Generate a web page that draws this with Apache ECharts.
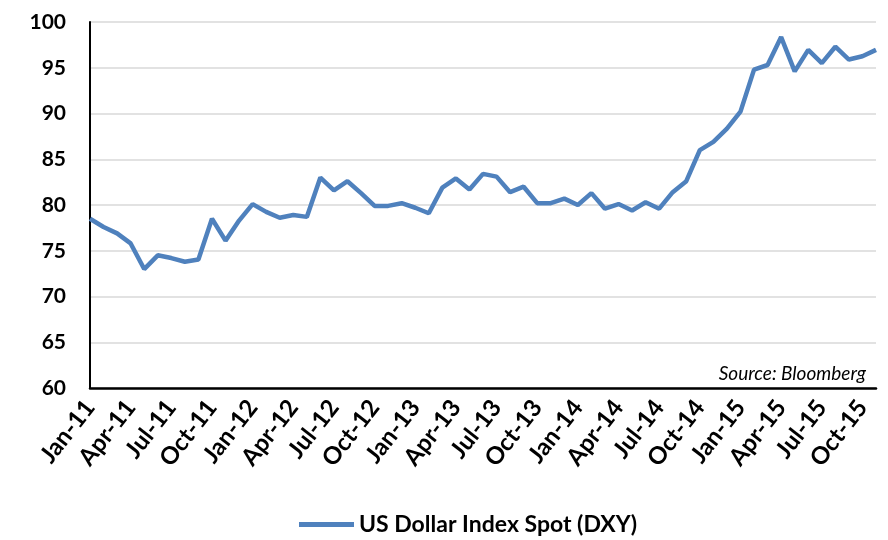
<!DOCTYPE html>
<html>
<head>
<meta charset="utf-8">
<script src="https://cdn.jsdelivr.net/npm/echarts@6/dist/echarts.min.js"></script>
<style>
  html, body { margin: 0; padding: 0; background: #fff; }
  #main { width: 888px; height: 540px; }
</style>
</head>
<body>
<div id="main"></div>
<script>
var months = ['Jan', 'Feb', 'Mar', 'Apr', 'May', 'Jun', 'Jul', 'Aug', 'Sep', 'Oct', 'Nov', 'Dec'];
var years = ['11', '12', '13', '14', '15'];
// monthly categories Jan-11 .. Nov-15
var categories = [];
years.forEach(function (y) {
    months.forEach(function (m) {
        categories.push(m + '-' + y);
    });
});
categories = categories.slice(0, 59);

// US Dollar Index Spot (DXY)
var dxy = [
    78.5, 77.6, 76.9, 75.8, 73.0, 74.5, 74.2, 73.8, 74.05, 78.5, 76.1, 78.3,
    80.1, 79.25, 78.6, 78.9, 78.7, 83.0, 81.6, 82.6, 81.3, 79.9, 79.9, 80.2,
    79.7, 79.1, 81.9, 82.9, 81.7, 83.4, 83.1, 81.4, 82.0, 80.2, 80.2, 80.7,
    80.0, 81.3, 79.6, 80.1, 79.4, 80.3, 79.6, 81.4, 82.6, 86.0, 86.9, 88.35,
    90.2, 94.8, 95.3, 98.35, 94.6, 96.95, 95.5, 97.3, 95.9, 96.25, 96.95
];

var seriesName = 'US Dollar Index Spot (DXY)';
var sourceText = 'Source: Bloomberg';

var myChart = echarts.init(document.getElementById('main'));

var option = {
    animation: false,
    backgroundColor: '#ffffff',
    textStyle: {fontFamily: 'Lato'},
    grid: {
        left: 90,
        right: 12,
        top: 22,
        bottom: 152
    },
    legend: {
        left: 294,
        top: 508,
        itemWidth: 55,
        itemHeight: 5,
        itemGap: 10,
        icon: 'rect',
        textStyle: {
            fontFamily: 'Lato',
            fontWeight: 'bold',
            fontSize: 23,
            color: '#000'
        },
        data: [seriesName]
    },
    xAxis: {
        type: 'category',
        data: categories,
        boundaryGap: false,
        axisLine: {lineStyle: {color: '#000', width: 2.5}},
        axisTick: {show: false},
        axisLabel: {
            interval: 2,
            rotate: 52,
            margin: 15,
            fontFamily: 'Lato',
            fontWeight: 'bold',
            fontSize: 24,
            color: '#000'
        },
        splitLine: {show: false}
    },
    yAxis: {
        type: 'value',
        min: 60,
        max: 100,
        interval: 5,
        axisLine: {show: true, lineStyle: {color: '#000', width: 2}},
        axisTick: {show: false},
        axisLabel: {
            margin: 24,
            fontFamily: 'Lato',
            fontWeight: 'bold',
            fontSize: 21,
            color: '#000'
        },
        splitLine: {lineStyle: {color: '#d9d9d9', width: 1.5}}
    },
    graphic: [{
        type: 'text',
        right: 22,
        top: 364,
        style: {
            text: sourceText,
            fontFamily: 'Lato',
            fontStyle: 'italic',
            fontSize: 19,
            fill: '#000'
        }
    }],
    series: [{
        name: seriesName,
        type: 'line',
        data: dxy,
        showSymbol: false,
        symbol: 'none',
        lineStyle: {color: '#4f81bd', width: 4.5},
        itemStyle: {color: '#4f81bd'}
    }]
};

myChart.setOption(option);
</script>
</body>
</html>
